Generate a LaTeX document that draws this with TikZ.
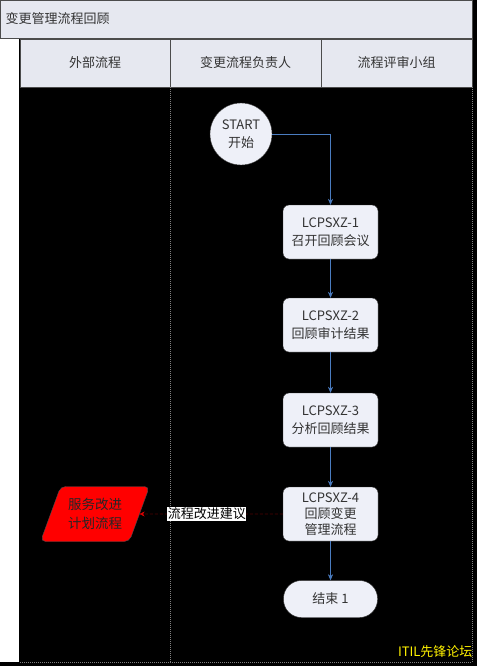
\documentclass[tikz,border=0pt]{standalone}
\usepackage{fontspec}
\setmainfont{Noto Sans CJK SC}
\usetikzlibrary{shapes.geometric,arrows.meta}
\definecolor{boxfill}{HTML}{EEF0F8}
\definecolor{hdrfill}{HTML}{E6E8F0}
\definecolor{txt}{HTML}{333333}
\definecolor{flow}{HTML}{4A7CC0}
\begin{document}
\begin{tikzpicture}[x=1pt,y=-1pt,
  every node/.style={font=\fontsize{13}{18}\selectfont, text=txt},
  proc/.style={draw=black!80, fill=boxfill, rounded corners=6pt, minimum width=95pt, minimum height=54pt, align=center, inner sep=1pt},
  term/.style={draw=black!80, fill=boxfill, rounded corners=18pt, minimum width=94pt, minimum height=37pt, align=center},
  startc/.style={draw=black!80, fill=boxfill, circle, minimum size=62pt, align=center, inner sep=0pt},
  flowarr/.style={draw=flow, -{Stealth[length=6pt,width=5pt]}},
  hdr/.style={draw=black!70, fill=hdrfill}
]
\useasboundingbox (0,0) rectangle (477,666);
\fill[black] (0,0) rectangle (477,666);
% title bar
\draw[hdr] (0,0) rectangle (472,38);
\node[anchor=west] (title) at (2,19) {变更管理流程回顾};
% left strip
\fill[white] (0,39) rectangle (19,662);
% headers
\draw[hdr] (20,39) rectangle (170,87);
\draw[hdr] (170,39) rectangle (321,87);
\draw[hdr] (321,39) rectangle (472,87);
\node (h1) at (95,63) {外部流程};
\node (h2) at (245.5,63) {变更流程负责人};
\node (h3) at (396.5,63) {流程评审小组};
% dividers
\draw[gray, densely dotted, line width=1pt] (170,87) -- (170,662);
\draw[gray, densely dotted, line width=1pt] (472,87) -- (472,662);
\draw[gray, densely dotted, line width=1pt] (20,662) -- (472,662);
% nodes
\node[startc] (start) at (241,134) {START\\开始};
\node[proc] (p1) at (330.5,232) {LCPSXZ-1\\召开回顾会议};
\node[proc] (p2) at (330.5,325) {LCPSXZ-2\\回顾审计结果};
\node[proc] (p3) at (330.5,420) {LCPSXZ-3\\分析回顾结果};
\node[proc, font=\fontsize{13}{16}\selectfont] (p4) at (330.5,514) {LCPSXZ-4\\回顾变更\\管理流程};
\node[term] (end) at (330.5,599) {结束 1};
\node[trapezium, trapezium stretches=true, trapezium left angle=65, trapezium right angle=115, draw=black!70, fill=red, rounded corners=5pt, minimum width=110pt, minimum height=55pt, align=center, text=black!85, font=\fontsize{13.5}{19}\selectfont] (ext) at (95,514) {服务改进\\计划流程};
% connectors
\draw[flowarr] (start.east) -| (p1.north);
\draw[flowarr] (p1) -- (p2);
\draw[flowarr] (p2) -- (p3);
\draw[flowarr] (p3) -- (p4);
\draw[flowarr] (p4) -- (end);
\draw[red!85!black, densely dashed, -{Stealth[length=5pt,width=5pt]}] (p4.west) -- node[fill=white, inner sep=0.5pt, text=black, pos=0.53] (lbl) {流程改进建议} (ext.east);
% watermark
\node[text=yellow, anchor=east, font=\fontsize{13}{15}\selectfont] (wm) at (476,652) {ITIL先锋论坛};
\end{tikzpicture}
\end{document}
